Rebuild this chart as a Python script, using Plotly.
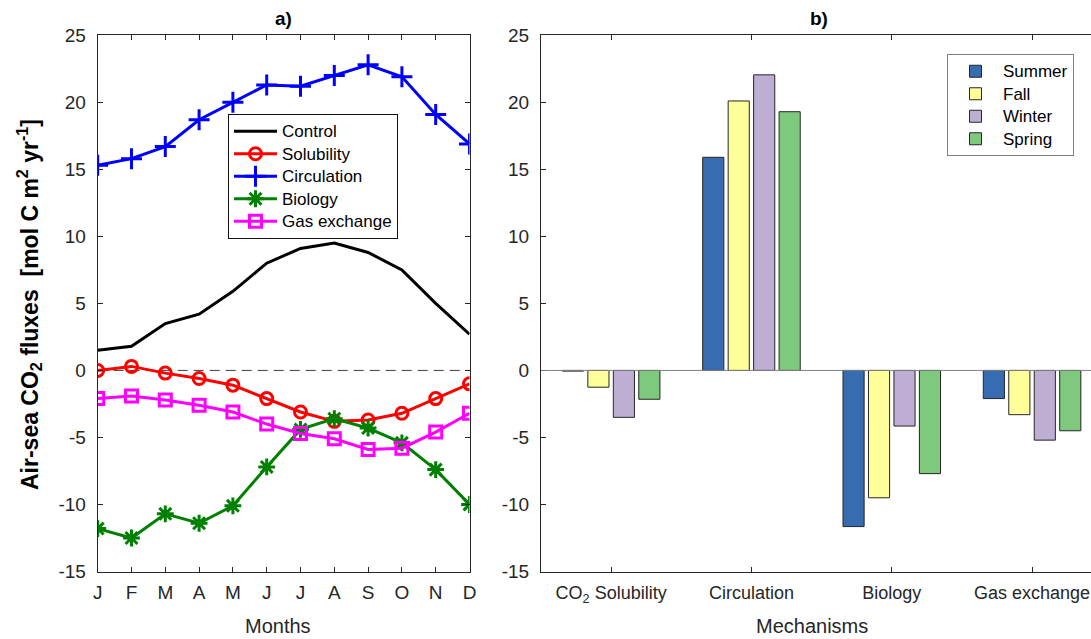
import plotly.graph_objects as go

# ---------------- data ----------------
months = ["J", "F", "M", "A", "M", "J", "J", "A", "S", "O", "N", "D"]
month_idx = list(range(1, 13))

control = [1.5, 1.8, 3.5, 4.2, 5.9, 8.0, 9.1, 9.5, 8.8, 7.5, 5.0, 2.7]
solubility = [0.0, 0.3, -0.2, -0.6, -1.1, -2.1, -3.1, -3.8, -3.7, -3.2, -2.1, -1.0]
circulation = [15.3, 15.8, 16.7, 18.7, 20.0, 21.3, 21.2, 22.0, 22.8, 21.9, 19.1, 16.9]
biology = [-11.8, -12.5, -10.7, -11.4, -10.1, -7.2, -4.4, -3.6, -4.3, -5.4, -7.4, -10.0]
gas_exchange = [-2.1, -1.9, -2.2, -2.6, -3.1, -4.0, -4.7, -5.1, -5.9, -5.8, -4.6, -3.2]

mechanisms = ["CO<sub>2</sub> Solubility", "Circulation", "Biology", "Gas exchange"]
summer = [-0.05, 15.9, -11.65, -2.1]
fall = [-1.25, 20.1, -9.5, -3.3]
winter = [-3.5, 22.05, -4.15, -5.2]
spring = [-2.15, 19.3, -7.7, -4.5]

y_ticks = [-15, -10, -5, 0, 5, 10, 15, 20, 25]
y_ticktext = ["-15", "-10", "-5", "0", "5", "10", "15", "20", "25"]

# ---------------- styling ----------------
W, H = 1091, 639
FONT = "Liberation Sans, Arial, Helvetica, sans-serif"
AX = "#262626"

def px_x(p):
    return p / W

def px_y(p):
    return 1 - p / H

def leg_name(s):
    return '<span style="font-size:17px">' + s + '</span>'

fig = go.Figure()

line_series = [
    ("Control", control, "black", None),
    ("Solubility", solubility, "#ff0000", "circle-open"),
    ("Circulation", circulation, "#0000ff", "cross-thin-open"),
    ("Biology", biology, "#008000", "asterisk-open"),
    ("Gas exchange", gas_exchange, "#ff00ff", "square-open"),
]
for name, vals, col, sym in line_series:
    kw = {}
    if sym:
        size = {"circle-open": 12, "cross-thin-open": 15, "asterisk-open": 14, "square-open": 12}[sym]
        kw["marker"] = dict(symbol=sym, size=size, color=col, line=dict(width=3, color=col))
        mode = "lines+markers"
    else:
        mode = "lines"
    fig.add_trace(go.Scatter(x=month_idx, y=vals, name=leg_name(name), mode=mode,
                             line=dict(color=col, width=3), xaxis="x", yaxis="y",
                             legend="legend", **kw))

bar_series = [
    ("Summer", summer, "#386cb0"),
    ("Fall", fall, "#ffff99"),
    ("Winter", winter, "#beaed4"),
    ("Spring", spring, "#7fc97f"),
]
for name, vals, col in bar_series:
    fig.add_trace(go.Bar(x=mechanisms, y=vals, name=leg_name(name), xaxis="x2", yaxis="y2",
                         marker=dict(color=col, line=dict(color=AX, width=1)),
                         legend="legend2"))

ydom = [px_y(571.5), px_y(35.3)]

def axis_common(fs):
    return dict(showline=True, linecolor=AX, linewidth=1, ticks="inside", ticklen=5,
                tickcolor=AX, tickfont=dict(family=FONT, size=fs, color=AX),
                showgrid=False, zeroline=False, automargin=False)

fig.update_layout(
    width=W, height=H,
    margin=dict(l=0, r=0, t=0, b=0, autoexpand=False),
    paper_bgcolor="white", plot_bgcolor="white",
    font=dict(family=FONT, color=AX),
    barmode="group", bargap=0.274, bargroupgap=0.17,
    xaxis=dict(domain=[px_x(97.7), px_x(469.5)], range=[1, 12], tickvals=month_idx,
               ticktext=months, mirror="allticks", anchor="y", ticklabelstandoff=4,
               **axis_common(19)),
    yaxis=dict(domain=ydom, range=[-15, 25], tickvals=y_ticks, ticktext=y_ticktext,
               mirror="allticks", anchor="x", ticklabelstandoff=7, **axis_common(19)),
    xaxis2=dict(domain=[px_x(541), 1.0], range=[-0.5, 3.42], type="category",
                mirror="allticks", anchor="y2", ticklabelstandoff=5, **axis_common(18)),
    yaxis2=dict(domain=ydom, range=[-15, 25], tickvals=y_ticks, ticktext=y_ticktext,
                mirror=False, anchor="x2", ticklabelstandoff=7, **axis_common(19)),
    legend=dict(x=px_x(228), y=px_y(114), xanchor="left", yanchor="top",
                bgcolor="white", bordercolor="#111111", borderwidth=1, itemwidth=43,
                font=dict(family=FONT, size=15, color="black"), tracegroupgap=0),
    legend2=dict(x=px_x(947), y=px_y(54), xanchor="left", yanchor="top",
                 bgcolor="white", bordercolor="#808080", borderwidth=1, itemwidth=45,
                 font=dict(family=FONT, size=15, color="black"), tracegroupgap=0),
    showlegend=True,
)

# zero reference lines
fig.add_shape(type="line", xref="x domain", yref="y", x0=0, x1=1, y0=0, y1=0,
              line=dict(color="#404040", width=1, dash="10px,6px"), layer="below")
fig.add_shape(type="line", xref="x2 domain", yref="y2", x0=0, x1=1, y0=0, y1=0,
              line=dict(color="#808080", width=1), layer="above")

annotations = [
    dict(text="<b>a)</b>", x=px_x(283.6), y=px_y(19), font=dict(size=19, color="black")),
    dict(text="<b>b)</b>", x=px_x(819), y=px_y(19), font=dict(size=19, color="black")),
    dict(text="Months", x=px_x(278), y=px_y(626), font=dict(size=20, color=AX)),
    dict(text="Mechanisms", x=px_x(812), y=px_y(626), font=dict(size=20, color=AX)),
    dict(text="<b>Air-sea CO<sub>2</sub> fluxes\u00a0 [mol C m<sup>2</sup> yr<sup>-1</sup>]</b>",
         x=px_x(29), y=px_y(305), textangle=-90, font=dict(size=23, color="black")),
]
for a in annotations:
    fig.add_annotation(xref="paper", yref="paper", showarrow=False,
                       xanchor="center", yanchor="middle", **{k: v for k, v in a.items() if k != "font"},
                       font=dict(family=FONT, **a["font"]))

fig.write_html("out.html")
